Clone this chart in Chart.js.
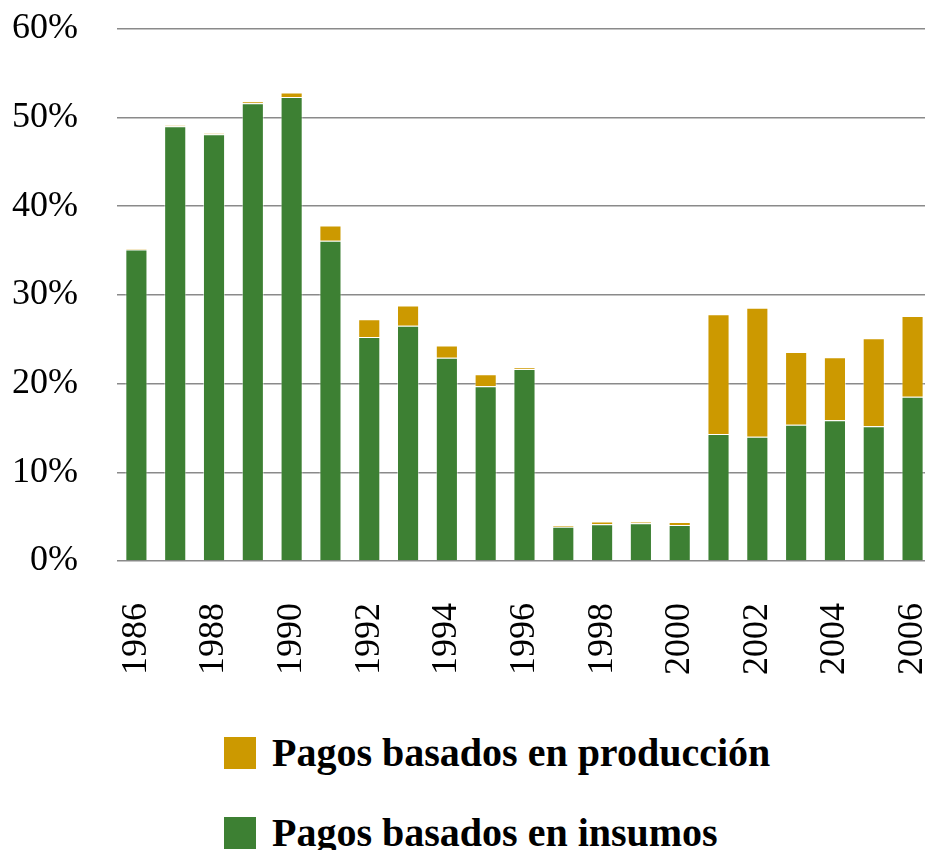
<!DOCTYPE html>
<html>
<head>
<meta charset="utf-8">
<script src="https://cdn.jsdelivr.net/npm/chart.js@4.4.1/dist/chart.umd.min.js"></script>
<style>
  html, body { margin: 0; padding: 0; background: #fff; overflow: hidden; }
  #wrap { position: relative; width: 925px; height: 850px; overflow: hidden; }
  #chart { position: absolute; left: 0; top: -32px; }
  .legend-row { position: absolute; left: 224px; display: flex; align-items: center;
    font-family: "Liberation Serif", serif; font-weight: bold; font-size: 40px; color: #000; }
  .legend-box { width: 32px; height: 32px; margin-right: 16px; }
</style>
</head>
<body>
<div id="wrap">
  <canvas id="chart" width="990" height="732"></canvas>
  <div id="legend"></div>
</div>
<script>
// --- datos ---
const years = ['1986','1987','1988','1989','1990','1991','1992','1993','1994','1995','1996',
               '1997','1998','1999','2000','2001','2002','2003','2004','2005','2006'];
const insumos = [35.1, 49.0, 48.1, 51.6, 52.3, 36.1, 25.25, 26.5, 22.9, 19.7, 21.65,
                 3.85, 4.15, 4.25, 4.05, 14.3, 14.0, 15.35, 15.85, 15.2, 18.5];
const produccion = [0.15, 0.1, 0.1, 0.2, 0.5, 1.7, 2.0, 2.3, 1.4, 1.35, 0.15,
                    0.2, 0.3, 0.2, 0.35, 13.5, 14.55, 8.2, 7.1, 9.9, 9.1];
const yTicks = [0, 10, 20, 30, 40, 50, 60];

const GREEN = '#3d8033';
const GOLD = '#cc9900';
const FONT = '"Liberation Serif", serif';
const CANVAS_H = 732;
const AXIS_BOTTOM = 593; // en coordenadas del canvas (561 en la página)

const chart = new Chart(document.getElementById('chart'), {
  type: 'bar',
  data: {
    labels: years,
    datasets: [
      { label: 'Pagos basados en insumos', data: insumos, backgroundColor: GREEN,
        borderColor: 'rgba(255,255,255,0.45)', borderWidth: 1, barPercentage: 0.57, categoryPercentage: 1 },
      { label: 'Pagos basados en producción', data: produccion, backgroundColor: GOLD,
        borderColor: 'rgba(255,255,255,0.45)', borderWidth: 1, barPercentage: 0.57, categoryPercentage: 1 }
    ]
  },
  options: {
    responsive: false,
    animation: false,
    layout: { padding: { top: 28, right: 10, bottom: 0, left: 0 } },
    plugins: { legend: { display: false }, tooltip: { enabled: false } },
    scales: {
      x: {
        stacked: true,
        grid: { display: false },
        border: { display: false },
        ticks: {
          autoSkip: false, maxRotation: 90, minRotation: 90, padding: 34,
          color: '#000', font: { family: FONT, size: 36 },
          callback: (v, i) => (i % 2 === 0 ? years[i] : '')
        },
        afterFit: s => { s.height = CANVAS_H - AXIS_BOTTOM; }
      },
      y: {
        stacked: true, min: 0, max: 60,
        afterBuildTicks: s => { s.ticks = yTicks.map(v => ({ value: v })); },
        grid: { color: '#8a8a8a', lineWidth: 1.5, drawTicks: false },
        border: { display: false },
        ticks: {
          padding: 39, color: '#000', font: { family: FONT, size: 36 },
          callback: v => v + '%'
        },
        afterFit: s => { s.width = 117; }
      }
    }
  }
});

// leyenda (orden inverso, como en la figura)
const legendTops = [733, 813];
document.getElementById('legend').innerHTML = chart.data.datasets.slice().reverse().map((d, i) => `
  <div class="legend-row" style="top:${legendTops[i] - 4}px">
    <div class="legend-box" style="background:${d.backgroundColor}"></div>
    <span>${d.label}</span>
  </div>`).join('');
</script>
</body>
</html>
